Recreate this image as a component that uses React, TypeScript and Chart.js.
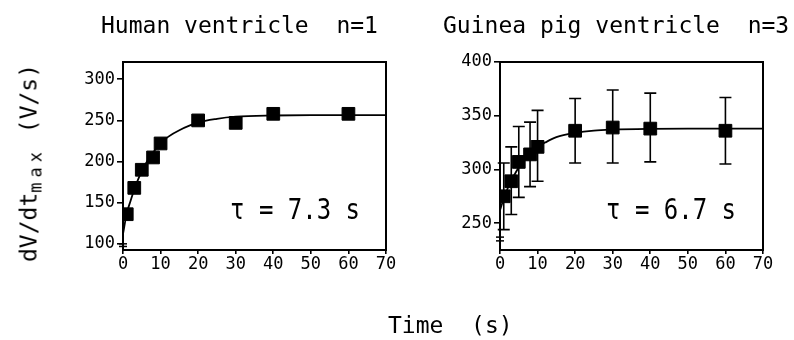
import React, { useEffect, useRef } from "react";
import { Chart, registerables } from "chart.js";

Chart.register(...registerables);

const FONT = "'DejaVu Sans Mono', monospace";

const xTickValues = [0, 10, 20, 30, 40, 50, 60, 70];

const humanTimes = [1, 3, 5, 8, 10, 20, 30, 40, 60];
const humanValues = [136, 168, 190, 205, 222, 250, 247, 258, 258];
const humanFitTimes = [0, 1, 2, 3, 4, 5, 6, 8, 10, 12, 15, 20, 25, 30, 40, 50, 60, 70];
const humanFitValues = [112, 137, 152, 166, 178, 188, 197, 211, 222, 230, 238, 247.5, 252, 254.5, 256, 256.5, 256.5, 256.5];
const humanYTicks = [100, 150, 200, 250, 300];
const humanYRange = [92.5, 321];
const humanBreak = [100, 96.8];

const gpTimes = [1, 3, 5, 8, 10, 20, 30, 40, 60];
const gpValues = [275, 289, 307, 314, 321, 336, 339, 338, 336];
const gpErrHigh = [306, 321, 340, 344, 355, 366, 374, 371, 367];
const gpErrLow = [244, 258, 274, 284, 289, 306, 306, 307, 305];
const gpFitTimes = [0, 1, 2, 3, 4, 5, 6, 8, 10, 12, 15, 20, 25, 30, 40, 50, 60, 70];
const gpFitValues = [262, 273, 282, 290, 296, 302, 307, 315, 321, 325, 330, 334, 336.2, 337.1, 337.8, 338, 338, 338];
const gpYTicks = [250, 300, 350, 400];
const gpYRange = [225, 400];
const gpBreak = [237, 233.5];

type PanelProps = {
  times: number[];
  values: number[];
  fitTimes: number[];
  fitValues: number[];
  yTicks: number[];
  yRange: number[];
  breakValues: number[];
  errHigh?: number[];
  errLow?: number[];
  padding: { left: number; right: number; top: number; bottom: number };
  width: number;
  height: number;
};

function Panel(p: PanelProps) {
  const ref = useRef<HTMLCanvasElement | null>(null);
  useEffect(() => {
    if (!ref.current) return;
    const framePlugin = {
      id: "frame",
      afterDatasetsDraw(chart: any) {
        const { ctx, chartArea: a } = chart;
        ctx.save();
        ctx.strokeStyle = "#000";
        ctx.lineWidth = 2;
        ctx.strokeRect(a.left, a.top, a.right - a.left, a.bottom - a.top);
        const ys = chart.scales.y;
        ctx.lineWidth = 1.5;
        p.breakValues.forEach((v) => {
          const py = ys.getPixelForValue(v);
          ctx.beginPath();
          ctx.moveTo(a.left - 4, py);
          ctx.lineTo(a.left + 4, py);
          ctx.stroke();
        });
        ctx.restore();
      },
    };
    const errPlugin = {
      id: "errbars",
      beforeDatasetsDraw(chart: any) {
        if (!p.errHigh || !p.errLow) return;
        const { ctx } = chart;
        const xs = chart.scales.x;
        const ys = chart.scales.y;
        ctx.save();
        ctx.strokeStyle = "#000";
        ctx.lineWidth = 1.6;
        p.times.forEach((t, i) => {
          const px = xs.getPixelForValue(t);
          const hi = ys.getPixelForValue(p.errHigh![i]);
          const lo = ys.getPixelForValue(p.errLow![i]);
          ctx.beginPath();
          ctx.moveTo(px, hi);
          ctx.lineTo(px, lo);
          ctx.moveTo(px - 6, hi);
          ctx.lineTo(px + 6, hi);
          ctx.moveTo(px - 6, lo);
          ctx.lineTo(px + 6, lo);
          ctx.stroke();
        });
        ctx.restore();
      },
    };
    const tickFont = { family: FONT, size: 17 };
    const chart = new Chart(ref.current, {
      type: "scatter",
      data: {
        datasets: [
          {
            data: p.fitTimes.map((t, i) => ({ x: t, y: p.fitValues[i] })),
            showLine: true,
            borderColor: "#000",
            borderWidth: 1.8,
            pointRadius: 0,
            cubicInterpolationMode: "monotone",
            fill: false,
          } as any,
          {
            data: p.times.map((t, i) => ({ x: t, y: p.values[i] })),
            showLine: false,
            pointStyle: "rect",
            pointRadius: 9,
            backgroundColor: "#000",
            borderColor: "#000",
            borderWidth: 1,
          },
        ],
      },
      options: {
        animation: false,
        responsive: false,
        maintainAspectRatio: false,
        layout: { padding: p.padding },
        plugins: { legend: { display: false }, tooltip: { enabled: false }, title: { display: false } },
        scales: {
          x: {
            type: "linear",
            min: 0,
            max: 70,
            afterBuildTicks: (s: any) => {
              s.ticks = xTickValues.map((v) => ({ value: v }));
            },
            afterFit: (s: any) => {
              s.height = 30;
            },
            grid: { display: true, drawOnChartArea: false, drawTicks: true, tickLength: 4, color: "#000", lineWidth: 1.6 },
            border: { display: true, color: "#000", width: 2 },
            ticks: { color: "#000", font: tickFont, padding: 0, maxRotation: 0, autoSkip: false },
          },
          y: {
            type: "linear",
            min: p.yRange[0],
            max: p.yRange[1],
            afterBuildTicks: (s: any) => {
              s.ticks = p.yTicks.map((v) => ({ value: v }));
            },
            afterFit: (s: any) => {
              s.width = 44;
            },
            grid: { display: true, drawOnChartArea: false, drawTicks: true, tickLength: 6, color: "#000", lineWidth: 1.6 },
            border: { display: true, color: "#000", width: 2 },
            ticks: { color: "#000", font: tickFont, padding: 2, autoSkip: false },
          },
        },
      },
      plugins: [framePlugin, errPlugin],
    });
    return () => chart.destroy();
  }, []);
  return <canvas ref={ref} width={p.width} height={p.height} style={{ width: p.width, height: p.height, display: "block" }} />;
}

const textBase: React.CSSProperties = {
  position: "absolute",
  fontFamily: FONT,
  color: "#000",
  whiteSpace: "pre",
  lineHeight: "1",
};

export default function App() {
  return (
    <div style={{ position: "fixed", left: 0, top: 0, width: 794, height: 340, background: "#fff", overflow: "hidden" }}>
      <div style={{ position: "absolute", left: 0, top: 0 }}>
        <Panel
          times={humanTimes}
          values={humanValues}
          fitTimes={humanFitTimes}
          fitValues={humanFitValues}
          yTicks={humanYTicks}
          yRange={humanYRange}
          breakValues={humanBreak}
          padding={{ left: 79, right: 14, top: 62, bottom: 60 }}
          width={400}
          height={340}
        />
      </div>
      <div style={{ position: "absolute", left: 400, top: 0 }}>
        <Panel
          times={gpTimes}
          values={gpValues}
          fitTimes={gpFitTimes}
          fitValues={gpFitValues}
          yTicks={gpYTicks}
          yRange={gpYRange}
          breakValues={gpBreak}
          errHigh={gpErrHigh}
          errLow={gpErrLow}
          padding={{ left: 56, right: 31, top: 62, bottom: 60 }}
          width={394}
          height={340}
        />
      </div>
      <div style={{ ...textBase, left: 101, top: 14, fontSize: 23 }}>Human ventricle  n=1</div>
      <div style={{ ...textBase, left: 443, top: 14, fontSize: 23 }}>Guinea pig ventricle  n=3</div>
      <div style={{ ...textBase, left: 230, top: 194.5, fontSize: 24, transform: "scaleY(1.18)", transformOrigin: "0 0" }}>τ = 7.3 s</div>
      <div style={{ ...textBase, left: 606, top: 194.5, fontSize: 24, transform: "scaleY(1.18)", transformOrigin: "0 0" }}>τ = 6.7 s</div>
      <div style={{ ...textBase, left: 388, top: 314, fontSize: 23 }}>Time  (s)</div>
      <div
        style={{
          ...textBase,
          left: 28.5,
          top: 163,
          fontSize: 23,
          transform: "translate(-50%, -50%) rotate(-90deg)",
        }}
      >
        dV/dt<span style={{ fontSize: 17, verticalAlign: "-5px", lineHeight: 0, letterSpacing: "5px" }}>max</span> (V/s)
      </div>
    </div>
  );
}
